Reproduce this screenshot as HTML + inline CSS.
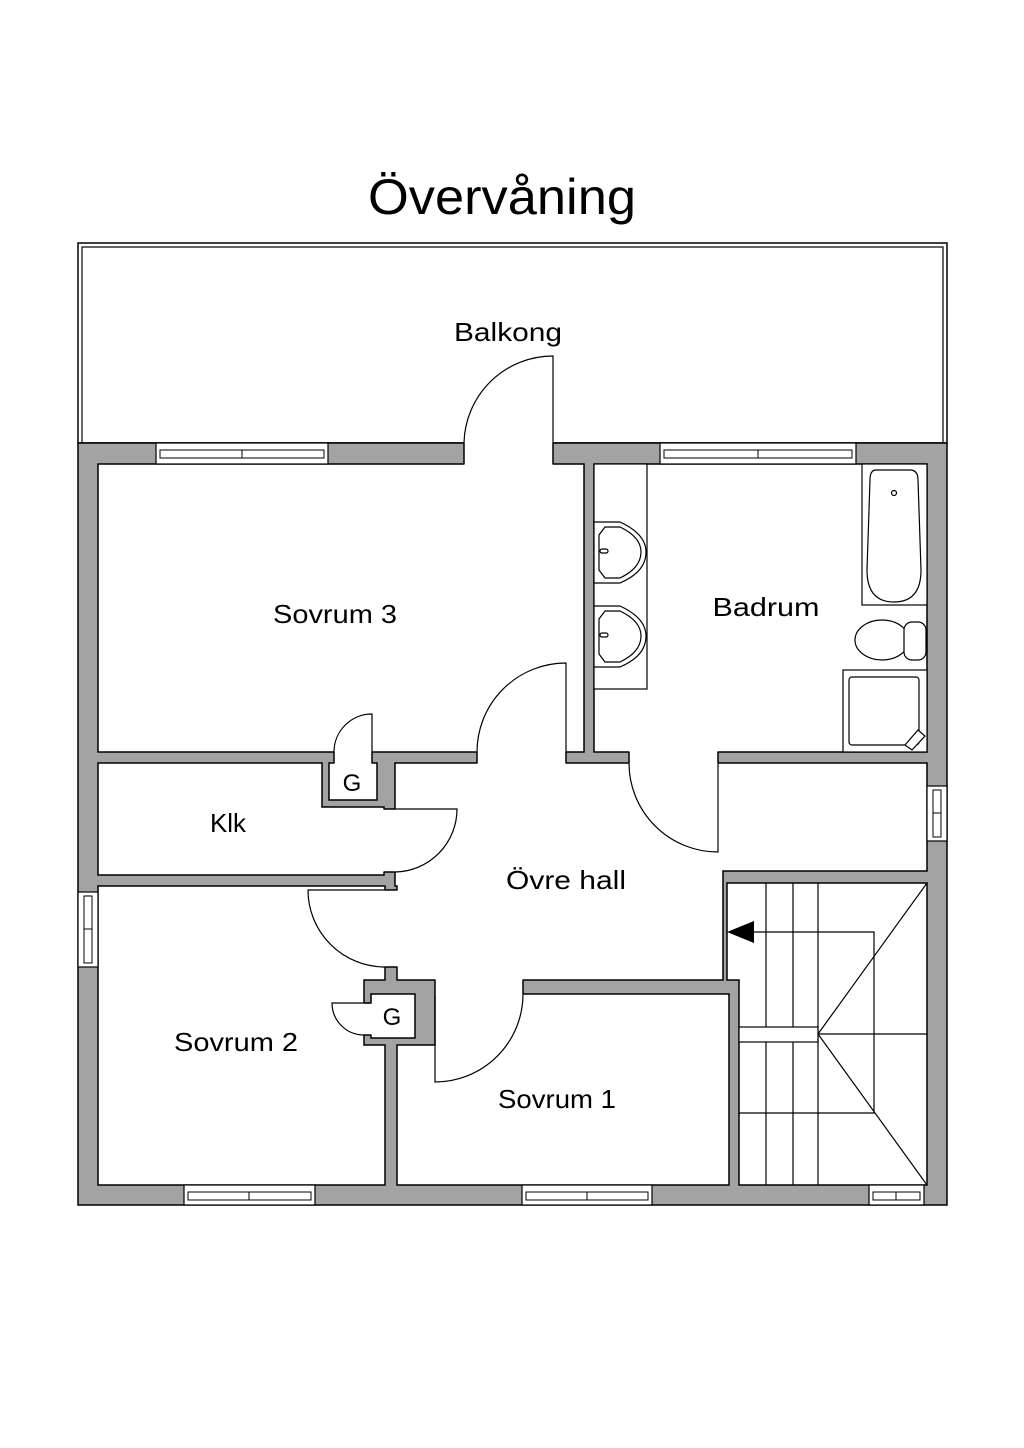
<!DOCTYPE html>
<html><head><meta charset="utf-8"><style>
html,body{margin:0;padding:0;background:#fff;}
svg{display:block;}
text{font-family:"Liberation Sans",sans-serif;fill:#000;}
</style></head><body>
<svg width="1024" height="1448" viewBox="0 0 1024 1448" xmlns="http://www.w3.org/2000/svg">
<rect width="1024" height="1448" fill="#fff"/>
<text x="502" y="214" font-size="50" text-anchor="middle" textLength="268" lengthAdjust="spacingAndGlyphs">Övervåning</text>

<!-- balcony -->
<rect x="78" y="243" width="869" height="200" fill="#fff" stroke="#000" stroke-width="1.5"/>
<rect x="82" y="247" width="861" height="196" fill="none" stroke="#000" stroke-width="1.2"/>
<text x="508" y="341" font-size="26" text-anchor="middle" textLength="108" lengthAdjust="spacingAndGlyphs">Balkong</text>

<!-- house wall mass -->
<rect x="78" y="443" width="869" height="762" fill="#a3a3a3" stroke="#000" stroke-width="1.5"/>

<g fill="#fff" stroke="#000" stroke-width="1.5">
<!-- Sovrum 3 -->
<rect x="98" y="464" width="486" height="288"/>
<!-- Bath -->
<rect x="594" y="464" width="333" height="288"/>
<!-- Klk -->
<polygon points="98,763 322,763 322,807 384,807 384,875 98,875"/>
<!-- G1 -->
<rect x="329" y="763" width="48" height="37"/>
<!-- Hall -->
<polygon points="395,763 927,763 927,871 723,871 723,980 397,980 397,886 395,886"/>
<!-- Stairs -->
<polygon points="727,883 927,883 927,1185 739,1185 739,980 727,980"/>
<!-- Sovrum 2 -->
<polygon points="98,886 385,886 385,980 364,980 364,1045 385,1045 385,1185 98,1185"/>
<!-- G2 -->
<rect x="371" y="994" width="44" height="44"/>
<!-- Sovrum 1 -->
<polygon points="397,1185 397,1045 435,1045 435,994 729,994 729,1185"/>
</g>

<!-- door openings -->
<g fill="#fff" stroke="none">
<rect x="464.5" y="442" width="88" height="23"/>
<rect x="477.5" y="751" width="88" height="13"/>
<rect x="629.5" y="751" width="88" height="13"/>
<rect x="334.5" y="751" width="37" height="13"/>
<rect x="383" y="809.5" width="13" height="62"/>
<rect x="384" y="890.5" width="14" height="76"/>
<rect x="363" y="1003.5" width="9" height="31"/>
<rect x="435.5" y="979" width="87" height="16"/>
</g>
<g stroke="#000" stroke-width="1.5" fill="none">
<line x1="464" y1="443" x2="464" y2="464"/><line x1="553" y1="443" x2="553" y2="464"/>
<line x1="477" y1="752" x2="477" y2="763"/><line x1="566" y1="752" x2="566" y2="763"/>
<line x1="629" y1="752" x2="629" y2="763"/><line x1="718" y1="752" x2="718" y2="763"/>
<line x1="334" y1="752" x2="334" y2="763"/><line x1="372" y1="752" x2="372" y2="763"/>
<line x1="384" y1="809" x2="395" y2="809"/><line x1="384" y1="872" x2="395" y2="872"/>
<line x1="385" y1="890" x2="397" y2="890"/><line x1="385" y1="967" x2="397" y2="967"/>
<line x1="364" y1="1003" x2="371" y2="1003"/><line x1="364" y1="1035" x2="371" y2="1035"/>
<line x1="435" y1="980" x2="435" y2="994"/><line x1="523" y1="980" x2="523" y2="994"/>
</g>

<!-- door leaves and swings -->
<g stroke="#000" stroke-width="1.2" fill="none">
<path d="M553,443 L553,356 A89,89 0 0 0 464,443"/>
<path d="M566,752 L566,663 A89,89 0 0 0 477,752"/>
<path d="M718,763 L718,852 A89,89 0 0 1 629,763"/>
<path d="M372,752 L372,714 A38,38 0 0 0 334,752"/>
<path d="M395,809 L457,809 A63,63 0 0 1 395,872"/>
<path d="M385,890 L308,890 A77,77 0 0 0 385,967"/>
<path d="M371,1003 L332,1003 A32,32 0 0 0 364,1035"/>
<path d="M435,994 L435,1082 A88,88 0 0 0 523,994"/>
</g>

<!-- windows -->
<g fill="#fff" stroke="#000" stroke-width="1.2">
<rect x="156" y="443" width="172" height="21"/>
<rect x="660" y="443" width="196" height="21"/>
<rect x="184" y="1185" width="131" height="20"/>
<rect x="522" y="1185" width="130" height="20"/>
<rect x="869" y="1185" width="55" height="20"/>
<rect x="78" y="892" width="20" height="75"/>
<rect x="927" y="786" width="20" height="55"/>
</g>
<g stroke="#000" stroke-width="1" fill="none">
<rect x="160" y="450" width="164" height="8"/><line x1="242" y1="450" x2="242" y2="458"/>
<rect x="664" y="450" width="188" height="8"/><line x1="758" y1="450" x2="758" y2="458"/>
<rect x="188" y="1192" width="123" height="8"/><line x1="249" y1="1192" x2="249" y2="1200"/>
<rect x="526" y="1192" width="122" height="8"/><line x1="587" y1="1192" x2="587" y2="1200"/>
<rect x="873" y="1192" width="47" height="8"/><line x1="896" y1="1192" x2="896" y2="1200"/>
<rect x="84" y="896" width="8" height="67"/><line x1="84" y1="929" x2="92" y2="929"/>
<rect x="933" y="790" width="8" height="47"/><line x1="933" y1="813" x2="941" y2="813"/>
</g>

<!-- stairs -->
<g stroke="#000" stroke-width="1.2" fill="none">
<line x1="766" y1="883" x2="766" y2="1185"/>
<line x1="793" y1="883" x2="793" y2="1185"/>
<line x1="818" y1="883" x2="818" y2="1185"/>
<polyline points="754,932 874,932 874,1113 739,1113"/>
<line x1="818" y1="1034" x2="927" y2="1034"/>
<line x1="927" y1="883" x2="818" y2="1034"/>
<line x1="818" y1="1034" x2="927" y2="1185"/>
</g>
<rect x="739" y="1027" width="79" height="15" fill="#fff" stroke="#000" stroke-width="1.2"/>
<polygon points="727,932 754,921 754,943" fill="#000"/>

<!-- bathroom fixtures -->
<g stroke="#000" stroke-width="1.2" fill="#fff">
<rect x="594" y="464" width="53" height="225"/>
<path d="M594,522 L620,522 Q646,534 646,552 Q646,572 620,583 L594,583 Z"/>
<path d="M605,527 L620,527 Q641,537 641,552 Q641,568 620,578 L605,578 L599,570 L599,535 Z"/>
<rect x="600" y="549" width="8" height="4" rx="2"/>
<path d="M594,606 L620,606 Q646,618 646,636 Q646,656 620,667 L594,667 Z"/>
<path d="M605,611 L620,611 Q641,621 641,636 Q641,652 620,662 L605,662 L599,654 L599,619 Z"/>
<rect x="600" y="633" width="8" height="4" rx="2"/>
<rect x="862" y="464" width="65" height="141"/>
<path d="M876,470 L910,470 Q918,470 918,480 L921,570 Q921,602 894,602 Q867,602 867,570 L870,480 Q870,470 876,470 Z"/>
<circle cx="894" cy="493" r="2.5"/>
<ellipse cx="882" cy="640" rx="27" ry="20"/>
<rect x="904" y="622" width="22" height="38" rx="8"/>
<rect x="843" y="670" width="84" height="82"/>
<rect x="849" y="677" width="70" height="68" rx="3"/>
<path d="M905,745 L918,730 L925,736 L912,750 Z"/>
</g>

<!-- labels -->
<g font-size="26">
<text x="335" y="623" text-anchor="middle" textLength="124" lengthAdjust="spacingAndGlyphs">Sovrum 3</text>
<text x="766" y="616" text-anchor="middle" textLength="107" lengthAdjust="spacingAndGlyphs">Badrum</text>
<text x="228" y="832" text-anchor="middle" textLength="36" lengthAdjust="spacingAndGlyphs">Klk</text>
<text x="566" y="889" text-anchor="middle" textLength="120" lengthAdjust="spacingAndGlyphs">Övre hall</text>
<text x="236" y="1051" text-anchor="middle" textLength="124" lengthAdjust="spacingAndGlyphs">Sovrum 2</text>
<text x="557" y="1108" text-anchor="middle" textLength="118" lengthAdjust="spacingAndGlyphs">Sovrum 1</text>
</g>
<text x="352" y="791" font-size="24" text-anchor="middle">G</text>
<text x="392" y="1025" font-size="24" text-anchor="middle">G</text>
</svg>
</body></html>
